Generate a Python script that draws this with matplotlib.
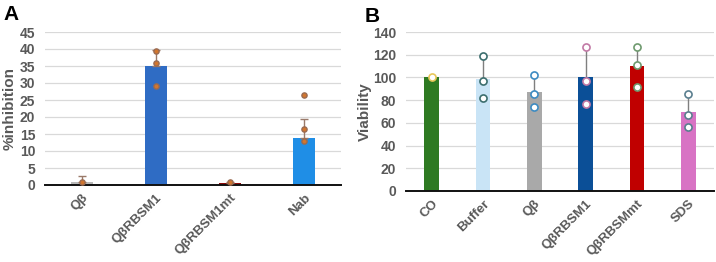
import matplotlib.pyplot as plt
import numpy as np

plt.rcParams['font.family'] = ['Liberation Sans', 'DejaVu Sans']

# Panel A data
a_labels = ['Qβ', 'QβRBSM1', 'QβRBSM1mt', 'Nab']
a_means = [0.8, 35.0, 0.7, 13.8]
a_err = [1.9, 4.6, 0.3, 5.7]
a_points = [[1.0], [39.5, 36.0, 29.0], [1.0], [26.5, 16.5, 13.0]]
a_colors = ['#b9b9b9', '#2f6cc4', '#8c0a0a', '#1f8ee6']
a_yticks = [0, 5, 10, 15, 20, 25, 30, 35, 40, 45]

# Panel B data
b_labels = ['CO', 'Buffer', 'Qβ', 'QβRBSM1', 'QβRBSMmt', 'SDS']
b_means = [100.0, 99.0, 87.0, 100.5, 110.0, 70.0]
b_err = [0.0, 20.0, 15.0, 26.5, 17.0, 15.0]
b_points = [[100.0], [119.0, 97.0, 82.0], [102.0, 85.0, 74.0],
            [127.0, 97.0, 77.0], [127.0, 111.0, 92.0], [85.0, 67.0, 56.0]]
b_colors = ['#2e7a22', '#c9e4f6', '#a9a9a9', '#0b4f97', '#c00000', '#d873c4']
b_edges = ['#e8c75a', '#3c6e6e', '#3d8bc2', '#c27aa6', '#6f9a6f', '#5a7f8f']
b_yticks = [0, 20, 40, 60, 80, 100, 120, 140]

txt = '#595959'
W, H = 716, 262

fig = plt.figure(figsize=(7.16, 2.62), dpi=100)
axA = fig.add_axes([45 / W, 1 - 185 / H, 296 / W, 153 / H])
axB = fig.add_axes([406 / W, 1 - 191 / H, 308 / W, 159 / H])


def style(ax, yticks, ylabel, label_x):
    ax.set_yticks(yticks)
    ax.set_ylim(yticks[0], yticks[-1])
    ax.yaxis.grid(True, color='#d9d9d9', lw=0.9)
    ax.set_axisbelow(True)
    for s in ['top', 'right', 'left']:
        ax.spines[s].set_visible(False)
    ax.spines['bottom'].set_color('#111111')
    ax.spines['bottom'].set_linewidth(1.4)
    ax.tick_params(axis='y', length=0, labelsize=10, labelcolor=txt, pad=7)
    ax.tick_params(axis='x', length=0, labelsize=9.5, labelcolor=txt, pad=5)
    for t in ax.get_yticklabels():
        t.set_fontweight('bold')
    ax.set_ylabel(ylabel, fontsize=11, color=txt, fontweight='bold')
    bb = ax.get_position()
    # x is where the right side of the rotated label sits, in figure pixels
    ax.yaxis.set_label_coords((label_x / W - bb.x0) / bb.width, 0.5)


# Panel A
xa = np.arange(len(a_labels))
axA.bar(xa, a_means, width=0.3, color=a_colors, zorder=2)
axA.errorbar(xa, a_means, yerr=[np.zeros(len(a_err)), a_err], fmt='none',
             ecolor='#9a7a6a', elinewidth=1, capsize=3, capthick=1, zorder=3)
for i, pts in enumerate(a_points):
    axA.scatter([i] * len(pts), pts, s=14, color='#d2762e',
                edgecolors='#9a6a50', linewidths=1, zorder=4)
axA.set_xlim(-0.5, len(a_labels) - 0.5)
axA.set_xticks(xa)
axA.set_xticklabels(a_labels, rotation=45, ha='right', rotation_mode='anchor',
                    fontweight='bold')
style(axA, a_yticks, '%inhibition', 17)

# Panel B
xb = np.arange(len(b_labels))
axB.bar(xb, b_means, width=0.29, color=b_colors, zorder=2)
axB.errorbar(xb, b_means, yerr=[np.zeros(len(b_err)), b_err], fmt='none',
             ecolor='#7f7f7f', elinewidth=1, capsize=0, zorder=3)
for i, pts in enumerate(b_points):
    axB.scatter([i] * len(pts), pts, s=26, color='white',
                edgecolors=b_edges[i], linewidths=1.2, zorder=4)
axB.set_xlim(-0.5, len(b_labels) - 0.5)
axB.set_xticks(xb)
axB.set_xticklabels(b_labels, rotation=45, ha='right', rotation_mode='anchor',
                    fontweight='bold')
style(axB, b_yticks, 'Viability', 372)

fig.text(3 / W, 1 - 20 / H, 'A', fontsize=15, fontweight='bold', va='baseline')
fig.text(365 / W, 1 - 22 / H, 'B', fontsize=15, fontweight='bold', va='baseline')

fig.savefig('out.png', dpi=100)
